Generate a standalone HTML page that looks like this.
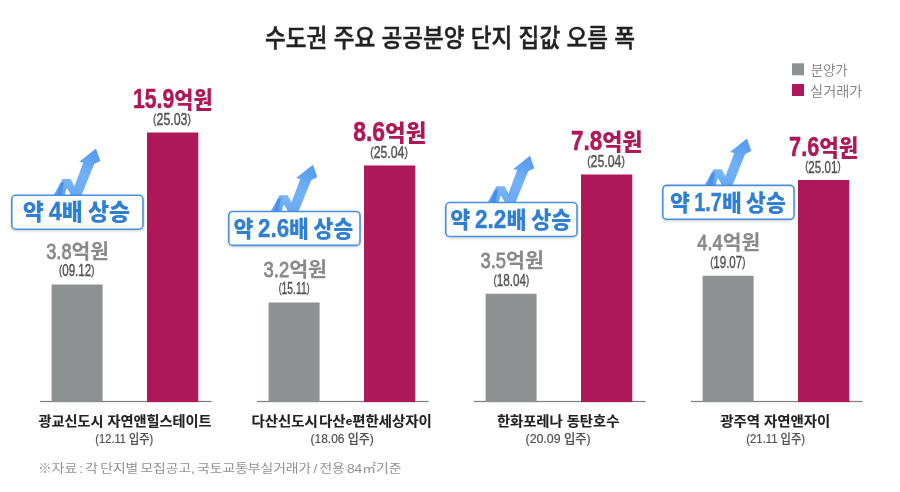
<!DOCTYPE html>
<html lang="ko"><head><meta charset="utf-8"><title>수도권 주요 공공분양 단지 집값 오름 폭</title>
<style>
html,body{margin:0;padding:0;background:#fff}
body{width:900px;height:492px;overflow:hidden;font-family:'Liberation Sans','Noto Sans CJK KR',sans-serif}
svg{display:block;filter:blur(0.45px)}
</style></head><body>
<svg width="900" height="492" viewBox="0 0 900 492" role="img" aria-label="수도권 주요 공공분양 단지 집값 오름 폭">
<defs>
<linearGradient id="ag" x1="0" y1="1" x2="0.4" y2="0"><stop offset="0" stop-color="#6aaaf5"/><stop offset="0.55" stop-color="#72b1f8"/><stop offset="1" stop-color="#5a9df1"/></linearGradient>
<linearGradient id="ag2" x1="0" y1="1" x2="0.5" y2="0"><stop offset="0" stop-color="#5ea2f3"/><stop offset="1" stop-color="#78b6f9"/></linearGradient>
<filter id="sh" x="-10%" y="-30%" width="120%" height="170%"><feGaussianBlur in="SourceAlpha" stdDeviation="1.6"/><feOffset dx="0" dy="1.2"/><feComponentTransfer><feFuncA type="linear" slope="0.2"/></feComponentTransfer><feMerge><feMergeNode/><feMergeNode in="SourceGraphic"/></feMerge></filter>
</defs>
<rect width="900" height="492" fill="#ffffff"/>
<rect x="792" y="63.3" width="12" height="12" fill="#8e9192"/>
<rect x="792" y="84" width="12" height="12" fill="#ae1858"/>
<rect x="39.90" y="400.9" width="171.7" height="1.2" fill="#7d7d7d"/>
<rect x="51.60" y="284.5" width="51" height="117.60" fill="#8e9192"/>
<rect x="147.00" y="132.5" width="51.3" height="269.60" fill="#ae1858"/>
<g transform="translate(96.00,148.50)">
<polygon points="-42.8,47.5 -33.6,30.6 -25.4,30.6 -16,47.5 -24.4,47.5 -29.2,39.5 -31.6,47.5" fill="url(#ag2)"/>
<polygon points="-35.6,35 -32,33.2 -34.6,47.5 -39.6,47.5" fill="#4a8eec"/>
<polygon points="0,0 4.3,12.4 -1.8,15.5 -14.8,47.5 -25.2,47.5 -12.8,14.3 -17,13.4" fill="url(#ag)"/>
</g>
<rect x="11.80" y="195.30" width="131.2" height="33.9" rx="4" ry="4" fill="#fff" stroke="#4a90e2" stroke-width="1.6" filter="url(#sh)"/>
<rect x="256.90" y="400.9" width="171.7" height="1.2" fill="#7d7d7d"/>
<rect x="268.60" y="302.5" width="51" height="99.60" fill="#8e9192"/>
<rect x="364.00" y="165.5" width="51.3" height="236.60" fill="#ae1858"/>
<g transform="translate(313.00,164.70)">
<polygon points="-42.8,47.5 -33.6,30.6 -25.4,30.6 -16,47.5 -24.4,47.5 -29.2,39.5 -31.6,47.5" fill="url(#ag2)"/>
<polygon points="-35.6,35 -32,33.2 -34.6,47.5 -39.6,47.5" fill="#4a8eec"/>
<polygon points="0,0 4.3,12.4 -1.8,15.5 -14.8,47.5 -25.2,47.5 -12.8,14.3 -17,13.4" fill="url(#ag)"/>
</g>
<rect x="228.80" y="211.50" width="131.2" height="33.9" rx="4" ry="4" fill="#fff" stroke="#4a90e2" stroke-width="1.6" filter="url(#sh)"/>
<rect x="473.90" y="400.9" width="171.7" height="1.2" fill="#7d7d7d"/>
<rect x="485.60" y="293.75" width="51" height="108.35" fill="#8e9192"/>
<rect x="581.00" y="174.5" width="51.3" height="227.60" fill="#ae1858"/>
<g transform="translate(530.00,155.75)">
<polygon points="-42.8,47.5 -33.6,30.6 -25.4,30.6 -16,47.5 -24.4,47.5 -29.2,39.5 -31.6,47.5" fill="url(#ag2)"/>
<polygon points="-35.6,35 -32,33.2 -34.6,47.5 -39.6,47.5" fill="#4a8eec"/>
<polygon points="0,0 4.3,12.4 -1.8,15.5 -14.8,47.5 -25.2,47.5 -12.8,14.3 -17,13.4" fill="url(#ag)"/>
</g>
<rect x="445.80" y="202.55" width="131.2" height="33.9" rx="4" ry="4" fill="#fff" stroke="#4a90e2" stroke-width="1.6" filter="url(#sh)"/>
<rect x="690.90" y="400.9" width="171.7" height="1.2" fill="#7d7d7d"/>
<rect x="702.60" y="275.75" width="51" height="126.35" fill="#8e9192"/>
<rect x="798.00" y="180" width="51.3" height="222.10" fill="#ae1858"/>
<g transform="translate(747.00,138.60)">
<polygon points="-42.8,47.5 -33.6,30.6 -25.4,30.6 -16,47.5 -24.4,47.5 -29.2,39.5 -31.6,47.5" fill="url(#ag2)"/>
<polygon points="-35.6,35 -32,33.2 -34.6,47.5 -39.6,47.5" fill="#4a8eec"/>
<polygon points="0,0 4.3,12.4 -1.8,15.5 -14.8,47.5 -25.2,47.5 -12.8,14.3 -17,13.4" fill="url(#ag)"/>
</g>
<rect x="662.80" y="185.40" width="131.2" height="33.9" rx="4" ry="4" fill="#fff" stroke="#4a90e2" stroke-width="1.6" filter="url(#sh)"/>
<text font-family="'Liberation Sans','Noto Sans CJK KR',sans-serif" font-weight="500" font-size="25.19" fill="#222" transform="translate(265.06,46.69) scale(0.8970,1)"  stroke="#222" stroke-width="0.45">수도권 주요 공공분양 단지 집값 오름 폭</text>
<text font-family="'Liberation Sans','Noto Sans CJK KR',sans-serif" font-weight="350" font-size="14.11" fill="#808080" transform="translate(810.63,74.94) scale(0.9537,1)" >분양가</text>
<text font-family="'Liberation Sans','Noto Sans CJK KR',sans-serif" font-weight="350" font-size="14.11" fill="#808080" transform="translate(810.05,95.64) scale(1.0086,1)" >실거래가</text>
<text font-family="'Liberation Sans','Noto Sans CJK KR',sans-serif" font-weight="900" font-size="22.64" fill="#ae1858" transform="translate(132.99,108.12) scale(0.9182,1)" ><tspan font-size="1.23em" stroke="#ae1858" stroke-width="0.5" textLength="44.98" lengthAdjust="spacingAndGlyphs">15.9</tspan>억원</text>
<text font-family="'Liberation Sans','Noto Sans CJK KR',sans-serif" font-weight="400" font-size="13.50" fill="#505050" transform="translate(153.11,125.01) scale(0.7531,1)"  stroke="#505050" stroke-width="0.38"><tspan dy="-0.15em">(</tspan><tspan font-size="1.22em" dy="0.123em">25.03</tspan><tspan dy="-0.15em">)</tspan></text>
<text font-family="'Liberation Sans','Noto Sans CJK KR',sans-serif" font-weight="700" font-size="20.68" fill="#8a8a8a" transform="translate(46.24,259.10) scale(0.9847,1)"  stroke="#8a8a8a" stroke-width="0.1"><tspan font-size="1.09em" font-weight="400" stroke="#8a8a8a" stroke-width="0.85" textLength="25.69" lengthAdjust="spacingAndGlyphs">3.8</tspan>억원</text>
<text font-family="'Liberation Sans','Noto Sans CJK KR',sans-serif" font-weight="400" font-size="13.61" fill="#505050" transform="translate(59.05,276.41) scale(0.6982,1)"  stroke="#505050" stroke-width="0.38"><tspan dy="-0.15em">(</tspan><tspan font-size="1.22em" dy="0.123em">09.12</tspan><tspan dy="-0.15em">)</tspan></text>
<text font-family="'Liberation Sans','Noto Sans CJK KR',sans-serif" font-weight="900" font-size="23.04" fill="#2f7fd3" transform="translate(22.64,220.40) scale(0.9936,1)" word-spacing="-0.06em">약 <tspan font-size="1.15em" stroke="#2f7fd3" stroke-width="0.4" textLength="13.27" lengthAdjust="spacingAndGlyphs">4</tspan>배 상승</text>
<text font-family="'Liberation Sans','Noto Sans CJK KR',sans-serif" font-weight="700" font-size="14.02" fill="#222" transform="translate(38.40,426.42) scale(1.0093,1)"  stroke="#222" stroke-width="0.12">광교신도시 자연앤힐스테이트</text>
<text font-family="'Liberation Sans','Noto Sans CJK KR',sans-serif" font-weight="500" font-size="12.58" fill="#505050" transform="translate(95.35,442.68) scale(0.8824,1)"  stroke="#505050" stroke-width="0.18">(12.11 입주)</text>
<text font-family="'Liberation Sans','Noto Sans CJK KR',sans-serif" font-weight="900" font-size="22.64" fill="#ae1858" transform="translate(353.19,141.12) scale(0.9911,1)" ><tspan font-size="1.23em" stroke="#ae1858" stroke-width="0.5" textLength="32.13" lengthAdjust="spacingAndGlyphs">8.6</tspan>억원</text>
<text font-family="'Liberation Sans','Noto Sans CJK KR',sans-serif" font-weight="400" font-size="13.50" fill="#505050" transform="translate(370.31,158.01) scale(0.7469,1)"  stroke="#505050" stroke-width="0.38"><tspan dy="-0.15em">(</tspan><tspan font-size="1.22em" dy="0.123em">25.04</tspan><tspan dy="-0.15em">)</tspan></text>
<text font-family="'Liberation Sans','Noto Sans CJK KR',sans-serif" font-weight="700" font-size="20.68" fill="#8a8a8a" transform="translate(263.59,277.10) scale(0.9953,1)"  stroke="#8a8a8a" stroke-width="0.1"><tspan font-size="1.09em" font-weight="400" stroke="#8a8a8a" stroke-width="0.85" textLength="25.69" lengthAdjust="spacingAndGlyphs">3.2</tspan>억원</text>
<text font-family="'Liberation Sans','Noto Sans CJK KR',sans-serif" font-weight="400" font-size="13.61" fill="#505050" transform="translate(278.71,294.41) scale(0.6228,1)"  stroke="#505050" stroke-width="0.38"><tspan dy="-0.15em">(</tspan><tspan font-size="1.22em" dy="0.123em">15.11</tspan><tspan dy="-0.15em">)</tspan></text>
<text font-family="'Liberation Sans','Noto Sans CJK KR',sans-serif" font-weight="900" font-size="23.04" fill="#2f7fd3" transform="translate(233.48,236.60) scale(0.9362,1)" word-spacing="-0.06em">약 <tspan font-size="1.15em" stroke="#2f7fd3" stroke-width="0.4" textLength="33.16" lengthAdjust="spacingAndGlyphs">2.6</tspan>배 상승</text>
<text font-family="'Liberation Sans','Noto Sans CJK KR',sans-serif" font-weight="700" font-size="14.14" fill="#222" transform="translate(251.42,426.40) scale(1.0205,1)" word-spacing="-0.18em" stroke="#222" stroke-width="0.12">다산신도시 다산<tspan font-size="0.82em" dy="-0.16em">e</tspan><tspan dy="0.131em">편한세상자이</tspan></text>
<text font-family="'Liberation Sans','Noto Sans CJK KR',sans-serif" font-weight="500" font-size="12.58" fill="#505050" transform="translate(310.60,442.68) scale(0.9496,1)"  stroke="#505050" stroke-width="0.18">(18.06 입주)</text>
<text font-family="'Liberation Sans','Noto Sans CJK KR',sans-serif" font-weight="900" font-size="22.64" fill="#ae1858" transform="translate(571.09,150.12) scale(0.9683,1)" ><tspan font-size="1.23em" stroke="#ae1858" stroke-width="0.5" textLength="32.13" lengthAdjust="spacingAndGlyphs">7.8</tspan>억원</text>
<text font-family="'Liberation Sans','Noto Sans CJK KR',sans-serif" font-weight="400" font-size="13.50" fill="#505050" transform="translate(587.21,167.01) scale(0.7490,1)"  stroke="#505050" stroke-width="0.38"><tspan dy="-0.15em">(</tspan><tspan font-size="1.22em" dy="0.123em">25.04</tspan><tspan dy="-0.15em">)</tspan></text>
<text font-family="'Liberation Sans','Noto Sans CJK KR',sans-serif" font-weight="700" font-size="20.68" fill="#8a8a8a" transform="translate(480.48,268.35) scale(0.9969,1)"  stroke="#8a8a8a" stroke-width="0.1"><tspan font-size="1.09em" font-weight="400" stroke="#8a8a8a" stroke-width="0.85" textLength="25.69" lengthAdjust="spacingAndGlyphs">3.5</tspan>억원</text>
<text font-family="'Liberation Sans','Noto Sans CJK KR',sans-serif" font-weight="400" font-size="13.61" fill="#505050" transform="translate(493.44,285.66) scale(0.7043,1)"  stroke="#505050" stroke-width="0.38"><tspan dy="-0.15em">(</tspan><tspan font-size="1.22em" dy="0.123em">18.04</tspan><tspan dy="-0.15em">)</tspan></text>
<text font-family="'Liberation Sans','Noto Sans CJK KR',sans-serif" font-weight="900" font-size="23.04" fill="#2f7fd3" transform="translate(450.27,227.65) scale(0.9457,1)" word-spacing="-0.06em">약 <tspan font-size="1.15em" stroke="#2f7fd3" stroke-width="0.4" textLength="33.16" lengthAdjust="spacingAndGlyphs">2.2</tspan>배 상승</text>
<text font-family="'Liberation Sans','Noto Sans CJK KR',sans-serif" font-weight="700" font-size="14.14" fill="#222" transform="translate(496.90,426.40) scale(1.0116,1)"  stroke="#222" stroke-width="0.12">한화포레나 동탄호수</text>
<text font-family="'Liberation Sans','Noto Sans CJK KR',sans-serif" font-weight="500" font-size="12.58" fill="#505050" transform="translate(525.53,442.68) scale(0.9811,1)"  stroke="#505050" stroke-width="0.18">(20.09 입주)</text>
<text font-family="'Liberation Sans','Noto Sans CJK KR',sans-serif" font-weight="900" font-size="22.64" fill="#ae1858" transform="translate(789.12,155.62) scale(0.9369,1)" ><tspan font-size="1.23em" stroke="#ae1858" stroke-width="0.5" textLength="32.13" lengthAdjust="spacingAndGlyphs">7.6</tspan>억원</text>
<text font-family="'Liberation Sans','Noto Sans CJK KR',sans-serif" font-weight="400" font-size="13.50" fill="#505050" transform="translate(805.20,172.51) scale(0.7047,1)"  stroke="#505050" stroke-width="0.38"><tspan dy="-0.15em">(</tspan><tspan font-size="1.22em" dy="0.123em">25.01</tspan><tspan dy="-0.15em">)</tspan></text>
<text font-family="'Liberation Sans','Noto Sans CJK KR',sans-serif" font-weight="700" font-size="20.68" fill="#8a8a8a" transform="translate(697.33,250.35) scale(0.9873,1)"  stroke="#8a8a8a" stroke-width="0.1"><tspan font-size="1.09em" font-weight="400" stroke="#8a8a8a" stroke-width="0.85" textLength="25.69" lengthAdjust="spacingAndGlyphs">4.4</tspan>억원</text>
<text font-family="'Liberation Sans','Noto Sans CJK KR',sans-serif" font-weight="400" font-size="13.61" fill="#505050" transform="translate(710.15,267.66) scale(0.6961,1)"  stroke="#505050" stroke-width="0.38"><tspan dy="-0.15em">(</tspan><tspan font-size="1.22em" dy="0.123em">19.07</tspan><tspan dy="-0.15em">)</tspan></text>
<text font-family="'Liberation Sans','Noto Sans CJK KR',sans-serif" font-weight="900" font-size="23.04" fill="#2f7fd3" transform="translate(670.08,210.50) scale(0.9380,1)" word-spacing="-0.08em">약 <tspan font-size="1.15em" stroke="#2f7fd3" stroke-width="0.4" textLength="29.48" lengthAdjust="spacingAndGlyphs">1.7</tspan>배 상승</text>
<text font-family="'Liberation Sans','Noto Sans CJK KR',sans-serif" font-weight="700" font-size="14.14" fill="#222" transform="translate(720.14,426.40) scale(1.0194,1)"  stroke="#222" stroke-width="0.12">광주역 자연앤자이</text>
<text font-family="'Liberation Sans','Noto Sans CJK KR',sans-serif" font-weight="500" font-size="12.58" fill="#505050" transform="translate(746.34,442.68) scale(0.8980,1)"  stroke="#505050" stroke-width="0.18">(21.11 입주)</text>
<text font-family="'Liberation Sans','Noto Sans CJK KR',sans-serif" font-weight="400" font-size="12.25" fill="#919191" transform="translate(38.05,473.47) scale(1.1259,1)" word-spacing="-0.12em">※자료 : 각 단지별 모집공고, 국토교통부실거래가 / 전용 84㎡기준</text>
</svg>
</body></html>
